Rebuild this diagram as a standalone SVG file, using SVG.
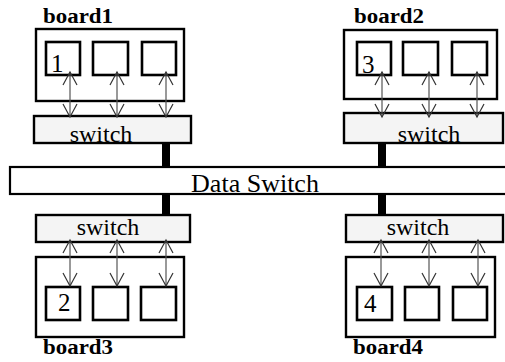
<svg xmlns="http://www.w3.org/2000/svg" width="505" height="362" viewBox="0 0 505 362">
<style>
.board{fill:#fff;stroke:#000;stroke-width:2.4}
.cell{fill:#fff;stroke:#000;stroke-width:2.6}
.sw{fill:#f4f4f4;stroke:#000;stroke-width:2.4}
.ds{fill:#fff;stroke:#000;stroke-width:2.2}
.bar{fill:#000}
.lbl{font-family:"Liberation Serif","Times New Roman",serif;font-weight:bold;font-size:20px;fill:#000}
.swt{font-family:"Liberation Serif","Times New Roman",serif;font-size:24px;fill:#000;text-anchor:middle}
.dst{font-family:"Liberation Serif","Times New Roman",serif;font-size:26px;fill:#000;text-anchor:middle}
.num{font-family:"Liberation Serif","Times New Roman",serif;font-size:25px;fill:#000}
.arr{stroke:#555;stroke-width:1.2;fill:none;marker-start:url(#ah);marker-end:url(#ah)}
</style>
<defs>
<marker id="ah" markerWidth="16" markerHeight="16" refX="13" refY="7" orient="auto-start-reverse" markerUnits="userSpaceOnUse" overflow="visible">
<path d="M0,0 L13,7 L0,14" fill="none" stroke="#333" stroke-width="1.2"/>
</marker>
</defs>
<g id="dataswitch">
<rect class="ds" x="10" y="167" width="500" height="27"/>
<text class="dst" x="255" y="192">Data Switch</text>
</g>
<g id="bars">
<rect class="bar" x="162" y="143" width="8" height="24"/>
<rect class="bar" x="378" y="143" width="8" height="24"/>
<rect class="bar" x="162" y="194" width="8" height="21"/>
<rect class="bar" x="378" y="194" width="8" height="21"/>
</g>
<g id="board1">
<rect class="board" x="36" y="29" width="148" height="72"/>
<rect class="cell" x="46" y="42" width="34" height="33"/>
<rect class="cell" x="93" y="42" width="35" height="33"/>
<rect class="cell" x="142" y="42" width="34" height="33"/>
<text class="num" x="51" y="72">1</text>
<text class="lbl" x="43" y="23" textLength="70" lengthAdjust="spacingAndGlyphs">board1</text>
</g>
<g id="switch1">
<rect class="sw" x="34" y="116" width="157" height="27"/>
<text class="swt" x="101" y="142">switch</text>
</g>
<g id="board2">
<rect class="board" x="344" y="30" width="153" height="69"/>
<rect class="cell" x="357" y="42" width="34" height="33"/>
<rect class="cell" x="403" y="42" width="35" height="33"/>
<rect class="cell" x="452" y="42" width="35" height="33"/>
<text class="num" x="362" y="73">3</text>
<text class="lbl" x="354" y="23" textLength="70" lengthAdjust="spacingAndGlyphs">board2</text>
</g>
<g id="switch2">
<rect class="sw" x="344" y="113" width="159" height="30"/>
<text class="swt" x="429" y="142">switch</text>
</g>
<g id="switch3">
<rect class="sw" x="36" y="215" width="154" height="27"/>
<text class="swt" x="108" y="235">switch</text>
</g>
<g id="board3">
<rect class="board" x="36" y="257" width="148" height="80"/>
<rect class="cell" x="46" y="287" width="34" height="33"/>
<rect class="cell" x="93" y="287" width="35" height="33"/>
<rect class="cell" x="141" y="287" width="35" height="33"/>
<text class="num" x="58" y="311">2</text>
<text class="lbl" x="43" y="354" textLength="70" lengthAdjust="spacingAndGlyphs">board3</text>
</g>
<g id="switch4">
<rect class="sw" x="346" y="215" width="157" height="27"/>
<text class="swt" x="418" y="235">switch</text>
</g>
<g id="board4">
<rect class="board" x="346" y="257" width="149" height="80"/>
<rect class="cell" x="357" y="287" width="35" height="33"/>
<rect class="cell" x="405" y="287" width="34" height="33"/>
<rect class="cell" x="453" y="287" width="34" height="33"/>
<text class="num" x="364" y="312">4</text>
<text class="lbl" x="353" y="354" textLength="70" lengthAdjust="spacingAndGlyphs">board4</text>
</g>
<g id="connectors">
<line class="arr" x1="70" y1="72" x2="70" y2="117"/>
<line class="arr" x1="117" y1="72" x2="117" y2="117"/>
<line class="arr" x1="166" y1="72" x2="166" y2="117"/>
<line class="arr" x1="382" y1="72" x2="382" y2="117"/>
<line class="arr" x1="429" y1="72" x2="429" y2="117"/>
<line class="arr" x1="477" y1="72" x2="477" y2="117"/>
<line class="arr" x1="70" y1="240" x2="70" y2="286"/>
<line class="arr" x1="117" y1="240" x2="117" y2="286"/>
<line class="arr" x1="166" y1="240" x2="166" y2="286"/>
<line class="arr" x1="381" y1="240" x2="381" y2="286"/>
<line class="arr" x1="429" y1="240" x2="429" y2="286"/>
<line class="arr" x1="478" y1="240" x2="478" y2="286"/>
</g>
</svg>
